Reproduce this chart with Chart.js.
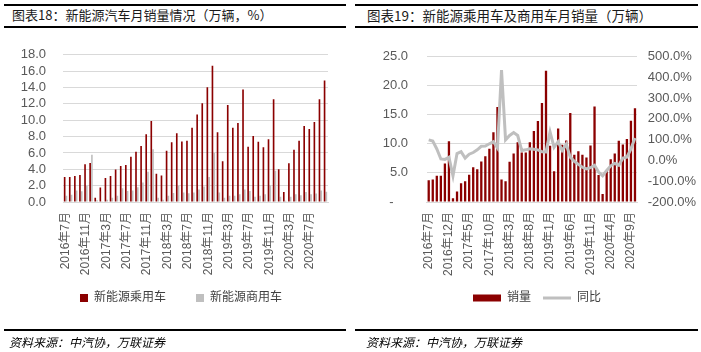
<!DOCTYPE html>
<html>
<head>
<meta charset="utf-8">
<script src="https://cdn.jsdelivr.net/npm/chart.js@4.4.0/dist/chart.umd.min.js"></script>
<style>
body{margin:0;width:701px;height:352px;background:#fff;position:relative;overflow:hidden;font-family:"Noto Sans CJK SC",sans-serif}
.rule{position:absolute;height:2px;background:#000}
.title{position:absolute;top:5px;font-size:13px;color:#1a1a1a;line-height:20px;white-space:nowrap}
.src{position:absolute;top:333px;font-size:12px;font-style:italic;color:#000;line-height:18px;white-space:nowrap}
canvas{position:absolute;top:30px}
</style>
</head>
<body>
<div class="rule" style="left:4px;width:342px;top:4px"></div>
<div class="rule" style="left:355px;width:343px;top:4px"></div>
<div class="title" style="left:12px">图表18：新能源汽车月销量情况（万辆，%）</div>
<div class="title" style="left:367px;font-size:13.5px">图表19：新能源乘用车及商用车月销量（万辆）</div>
<div class="rule" style="left:4px;width:342px;top:26px"></div>
<div class="rule" style="left:355px;width:343px;top:26px"></div>

<canvas id="left" width="350" height="304" style="left:0"></canvas>
<canvas id="right" width="351" height="286" style="left:350px"></canvas>

<div class="rule" style="left:4px;width:342px;top:329px"></div>
<div class="rule" style="left:355px;width:343px;top:329px"></div>
<div class="src" style="left:9px">资料来源：中汽协，万联证券</div>
<div class="src" style="left:366px">资料来源：中汽协，万联证券</div>

<script>
// months 2016-07 .. 2020-10
const months = [];
for (let y = 2016, m = 7; months.length < 52; m++) {
  if (m > 12) { m = 1; y++; }
  months.push(y + "年" + m + "月");
}

// 新能源乘用车 (万辆)
const passenger = [3.06, 3.06, 3.17, 3.29, 4.62, 4.78,
  0.53, 1.76, 2.94, 3.17, 3.97, 4.39, 4.51, 5.54, 6.15, 6.84, 8.29, 9.90,
  3.44, 3.25, 6.27, 7.30, 8.40, 7.41, 7.49, 9.09, 10.70, 12.07, 14.02, 16.66,
  8.52, 4.97, 11.85, 9.09, 9.67, 13.76, 6.76, 8.06, 7.37, 6.69, 7.68, 12.57,
  4.01, 1.22, 4.74, 6.38, 7.49, 9.29, 8.94, 9.78, 12.57, 14.86];

// 新能源商用车 (万辆)
const commercial = [0.76, 0.88, 1.41, 1.30, 2.00, 5.77,
  0.20, 0.10, 0.27, 0.53, 0.76, 1.68, 1.34, 1.41, 1.80, 2.37, 3.70, 6.46,
  0.53, 0.27, 0.76, 1.10, 2.00, 1.15, 1.07, 1.15, 1.53, 1.90, 3.06, 6.00,
  1.15, 0.53, 0.76, 0.76, 0.96, 1.53, 1.34, 0.65, 0.76, 0.96, 2.03, 3.82,
  0.65, 0.15, 0.65, 0.96, 0.84, 1.22, 0.96, 1.03, 1.41, 1.26];

// 销量 (万辆)
const sales = [3.72, 3.88, 4.52, 4.52, 6.60, 10.43,
  0.64, 1.80, 3.24, 3.56, 4.68, 5.96, 5.64, 6.97, 7.87, 9.15, 12.00, 16.33,
  3.88, 3.56, 6.91, 8.35, 10.27, 8.50, 8.50, 10.27, 12.18, 13.90, 17.00, 22.55,
  9.68, 5.30, 12.65, 9.85, 10.55, 15.30, 8.10, 8.70, 8.10, 7.65, 9.70, 16.40,
  4.66, 1.37, 5.39, 7.34, 8.33, 10.51, 9.90, 10.81, 13.98, 16.12];

// 同比 (%)
const yoy = [99, 93, 55, 7, 5, 15,
  -74, 33, 42, 11, 30, 38, 51, 68, 69, 80, 90, 60,
  435, 99, 120, 134, 120, 48, 51, 56, 54, 51, 42, 41,
  137, 63, 90, 48, 78, 16, -4, -19, -33, -41, -35, -23,
  -56, -74, -48, -26, -14, -23, 11, 16, 56, 108];

const RED = "#8b0000";
const GRAY = "#bfbfbf";
const GRID = "#d9d9d9";
const TXT = "#595959";

Chart.defaults.font.family = '"Liberation Sans", "Noto Sans CJK SC", sans-serif';
Chart.defaults.color = TXT;

// move the legend box after layout so the plot area stays put
const nudgeLegend = (dx, dy) => ({
  id: "nudgeLegend",
  afterLayout(chart) {
    const lg = chart.legend;
    lg.left += dx; lg.right += dx;
    lg.top += dy; lg.bottom += dy;
  },
});

new Chart(document.getElementById("left"), {
  type: "bar",
  data: {
    labels: months,
    datasets: [
      { label: "新能源乘用车", data: passenger, backgroundColor: RED, categoryPercentage: 0.7, barPercentage: 0.92 },
      { label: "新能源商用车", data: commercial, backgroundColor: GRAY, categoryPercentage: 0.7, barPercentage: 0.92 },
    ],
  },
  options: {
    responsive: false,
    animation: false,
    layout: { padding: { top: 15, left: 0, right: 15, bottom: 0 } },
    plugins: {
      tooltip: { enabled: false },
      legend: {
        position: "bottom",
        labels: { boxWidth: 8, boxHeight: 8, padding: 30, color: "#404040", font: { size: 12 } },
      },
    },
    scales: {
      x: {
        grid: { display: false, drawTicks: false },
        border: { color: GRID },
        ticks: {
          autoSkip: false, minRotation: 90, maxRotation: 90, padding: 10, font: { size: 12 },
          callback: (v, i) => (i % 4 === 0 ? months[i] : ""),
        },
        afterFit: (a) => { a.height = 80; },
      },
      y: {
        min: 0, max: 18,
        ticks: { stepSize: 2, autoSkip: false, padding: 17, font: { size: 13 }, callback: (v) => v.toFixed(1) },
        grid: { color: GRID, drawTicks: false },
        border: { display: false },
        afterFit: (a) => { a.width = 63; },
      },
    },
  },
  plugins: [nudgeLegend(13.5, -20)],
});

new Chart(document.getElementById("right"), {
  data: {
    labels: months,
    datasets: [
      { type: "bar", label: "销量", data: sales, backgroundColor: RED, yAxisID: "y", order: 1, categoryPercentage: 0.6, barPercentage: 0.95 },
      { type: "line", label: "同比", data: yoy, borderColor: GRAY, backgroundColor: GRAY, borderWidth: 3, pointRadius: 0, tension: 0, yAxisID: "y1", order: 0 },
    ],
  },
  options: {
    responsive: false,
    animation: false,
    layout: { padding: { top: 15, left: 0, right: 0, bottom: 0 } },
    plugins: {
      tooltip: { enabled: false },
      legend: {
        position: "bottom",
        labels: {
          usePointStyle: true, pointStyleWidth: 28, boxHeight: 7, padding: 12, color: "#404040", font: { size: 12 },
          sort: (a, b) => a.datasetIndex - b.datasetIndex,
          generateLabels: (chart) =>
            Chart.defaults.plugins.legend.labels.generateLabels(chart).map((it) => {
              it.pointStyle = it.datasetIndex === 0 ? "rect" : "line";
              return it;
            }),
        },
      },
    },
    scales: {
      x: {
        grid: { display: false, drawTicks: false },
        border: { color: GRID },
        ticks: {
          autoSkip: false, minRotation: 90, maxRotation: 90, padding: 10, font: { size: 12 },
          callback: (v, i) => (i % 5 === 0 ? months[i] : ""),
        },
        afterFit: (a) => { a.height = 80; },
      },
      y: {
        position: "left",
        min: 0, max: 25,
        ticks: { stepSize: 5, autoSkip: false, padding: 18.7, font: { size: 13 }, callback: (v) => (v === 0 ? "-    " : v.toFixed(1)) },
        grid: { color: GRID, drawTicks: false },
        border: { display: false },
        afterFit: (a) => { a.width = 76.7; },
      },
      y1: {
        position: "right",
        min: -200, max: 500,
        ticks: { stepSize: 100, autoSkip: false, padding: 10.7, font: { size: 13 }, callback: (v) => v.toFixed(1) + "%" },
        grid: { display: false, drawTicks: false },
        border: { display: false },
        afterFit: (a) => { a.width = 64; },
      },
    },
  },
  plugins: [nudgeLegend(11.5, -2)],
});
</script>
</body>
</html>
